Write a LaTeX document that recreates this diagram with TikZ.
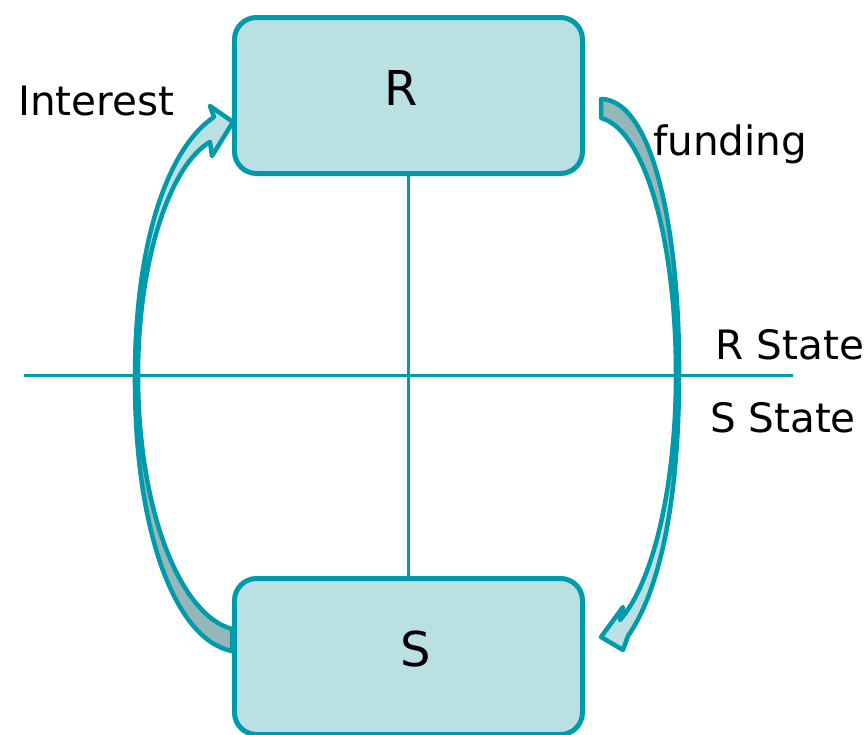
\documentclass[tikz,border=0pt]{standalone}
\usepackage{fontspec}
\setmainfont{DejaVu Sans}
\definecolor{tealline}{RGB}{0,155,170}
\definecolor{boxfill}{RGB}{187,224,227}
\definecolor{darkfill}{RGB}{149,183,185}
\tikzset{
  boxnode/.style={draw=tealline, fill=boxfill, line width=5pt, rounded corners=22pt,
    minimum width=348pt, minimum height=156pt, inner sep=0pt, outer sep=0pt},
  thinline/.style={draw=tealline, line width=3pt},
  arrowline/.style={draw=tealline, line width=4.5pt, line join=round},
  biglabel/.style={font=\fontsize{48}{56}\selectfont, inner sep=0pt, anchor=base},
  smalllabel/.style={font=\fontsize{40.5}{48}\selectfont, inner sep=0pt},
  leftarrowpath/.style={insert path={
    (232,651) .. controls (175,640) and (134,530) .. (135,375)
    .. controls (135,250) and (165,150) .. (214,117)
    -- (210,106) -- (233,122) -- (212,156) -- (210,142)
    .. controls (170,165) and (138,260) .. (138,375)
    .. controls (138,510) and (180,615) .. (232,629)
    -- cycle}},
  rightarrowpath/.style={insert path={
    (601,99) .. controls (655,100) and (680,240) .. (679,375)
    .. controls (679,500) and (660,590) .. (628,636)
    -- (623,650) -- (601,637) -- (623,607) -- (620,620)
    .. controls (655,580) and (676,480) .. (676,375)
    .. controls (676,240) and (645,130) .. (601,118)
    -- cycle}}
}
\begin{document}
\begin{tikzpicture}[x=1pt, y=-1pt]
\useasboundingbox[fill=white] (0,0) rectangle (865,734);
% curved block arrows
\begin{scope}
  \clip (0,375) rectangle (865,740);
  \fill[darkfill, leftarrowpath];
  \fill[boxfill, rightarrowpath];
\end{scope}
\begin{scope}
  \clip (0,-10) rectangle (865,375);
  \fill[boxfill, leftarrowpath];
  \fill[darkfill, rightarrowpath];
\end{scope}
\path[arrowline, leftarrowpath];
\path[arrowline, rightarrowpath];
% boxes
\node[boxnode] (R) at (408.5,95.5) {};
\node[boxnode] (S) at (408.5,656.5) {};
% lines
\draw[thinline] (R.south) -- (S.north);
\coordinate (hl) at (24,375);
\coordinate (hr) at (793,375);
\draw[thinline] (hl) -- (hr);
% labels
\node[biglabel] (Rl) at (401,105) {R};
\node[biglabel] (Sl) at (416,666) {S};
\node[smalllabel, anchor=base west] (interest) at (18,115) {Interest};
\node[smalllabel, anchor=base west] (funding) at (653,155) {funding};
\node[smalllabel, anchor=base] (rstate) at (790,359) {R State};
\node[smalllabel, anchor=base] (sstate) at (783,432) {S State};
\end{tikzpicture}
\end{document}
